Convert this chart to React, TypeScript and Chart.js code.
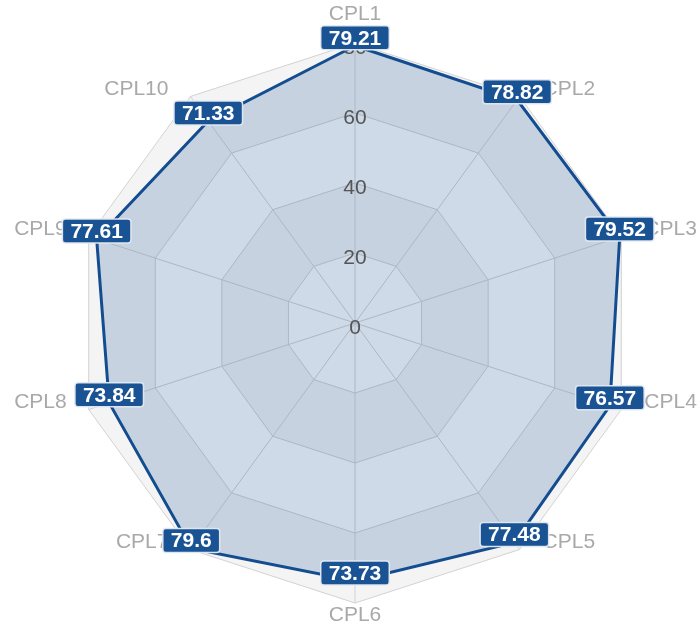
import React, { useEffect, useRef } from "react";
import { Chart, registerables } from "chart.js";

Chart.register(...registerables);

const CATEGORIES = ["CPL1", "CPL2", "CPL3", "CPL4", "CPL5", "CPL6", "CPL7", "CPL8", "CPL9", "CPL10"];
const VALUES = [79.21, 78.82, 79.52, 76.57, 77.48, 73.73, 79.6, 73.84, 77.61, 71.33];
const SCALE_MIN = 0;
const SCALE_MAX = 80;
const TICK_STEP = 20;

const FONT = '"Liberation Sans", Arial, Helvetica, sans-serif';
const LINE_COLOR = "#134d90";
const FILL_COLOR = "rgba(30, 85, 150, 0.21)";
const BOX_COLOR = "#1a5394";
const BAND_LIGHT = "#fefefe";
const BAND_DARK = "#f4f4f4";
const GRID_COLOR = "#d2d2d2";
const TICK_COLOR = "#555555";
const POINT_LABEL_COLOR = "#a9a9a9";

const zebraPlugin = {
  id: "zebra",
  beforeDraw(chart: any) {
    const s = chart.scales.r;
    if (!s) return;
    const ctx = chart.ctx;
    const n = chart.data.labels.length;
    const ticks = s.ticks;
    ctx.save();
    for (let k = ticks.length - 1; k >= 1; k--) {
      const d = s.getDistanceFromCenterForValue(ticks[k].value);
      ctx.beginPath();
      for (let i = 0; i < n; i++) {
        const p = s.getPointPosition(i, d);
        if (i === 0) ctx.moveTo(p.x, p.y);
        else ctx.lineTo(p.x, p.y);
      }
      ctx.closePath();
      ctx.fillStyle = k % 2 === 0 ? BAND_DARK : BAND_LIGHT;
      ctx.fill();
    }
    ctx.restore();
  },
};

const labelsPlugin = {
  id: "labelsOverlay",
  afterDatasetsDraw(chart: any) {
    const s = chart.scales.r;
    if (!s) return;
    const ctx = chart.ctx;
    const n = chart.data.labels.length;
    ctx.save();

    // radial tick labels
    ctx.font = `21px ${FONT}`;
    ctx.fillStyle = TICK_COLOR;
    ctx.textAlign = "center";
    ctx.textBaseline = "middle";
    s.ticks.forEach((t: any) => {
      const d = s.getDistanceFromCenterForValue(t.value);
      ctx.fillText(String(t.value), s.xCenter, s.yCenter - d + 5);
    });

    // point (category) labels
    ctx.font = `21px ${FONT}`;
    ctx.fillStyle = POINT_LABEL_COLOR;
    for (let i = 0; i < n; i++) {
      const p = s.getPointPosition(i, s.drawingArea);
      const dx = p.x - s.xCenter;
      const label = chart.data.labels[i];
      if (Math.abs(dx) < 1) {
        ctx.textAlign = "center";
        const y = p.y < s.yCenter ? p.y - 29 : p.y + 12.5;
        ctx.fillText(label, p.x, y);
      } else if (dx > 0) {
        ctx.textAlign = "left";
        ctx.fillText(label, p.x + 23, p.y - 7);
      } else {
        ctx.textAlign = "right";
        ctx.fillText(label, p.x - 22, p.y - 7);
      }
    }

    // value boxes
    const meta = chart.getDatasetMeta(0);
    const data = chart.data.datasets[0].data;
    ctx.font = `bold 21px ${FONT}`;
    ctx.textAlign = "center";
    ctx.textBaseline = "middle";
    meta.data.forEach((el: any, i: number) => {
      const txt = String(data[i]);
      const w = ctx.measureText(txt).width + 16;
      const h = 24;
      const cx = el.x;
      const cy = el.y - 8;
      ctx.beginPath();
      ctx.roundRect(cx - w / 2, cy - h / 2, w, h, 3);
      ctx.fillStyle = BOX_COLOR;
      ctx.fill();
      ctx.lineWidth = 1.5;
      ctx.strokeStyle = "rgba(228, 234, 242, 0.95)";
      ctx.stroke();
      ctx.fillStyle = "#ffffff";
      ctx.fillText(txt, cx, cy + 1);
    });

    ctx.restore();
  },
};

export default function App() {
  const ref = useRef<HTMLCanvasElement | null>(null);

  useEffect(() => {
    if (!ref.current) return;
    const chart = new Chart(ref.current, {
      type: "radar",
      data: {
        labels: CATEGORIES,
        datasets: [
          {
            data: VALUES,
            borderColor: LINE_COLOR,
            backgroundColor: FILL_COLOR,
            borderWidth: 3,
            pointRadius: 0,
            pointHoverRadius: 0,
            fill: true,
            tension: 0,
          },
        ],
      },
      options: {
        animation: false,
        responsive: true,
        maintainAspectRatio: false,
        layout: { padding: { left: 75, right: 65, top: 43, bottom: 26 } },
        plugins: {
          legend: { display: false },
          tooltip: { enabled: false },
        },
        scales: {
          r: {
            min: SCALE_MIN,
            max: SCALE_MAX,
            ticks: { display: false, stepSize: TICK_STEP },
            pointLabels: { display: false },
            grid: { color: GRID_COLOR, lineWidth: 1 },
            angleLines: { color: GRID_COLOR, lineWidth: 1 },
          },
        },
      },
      plugins: [zebraPlugin, labelsPlugin],
    });
    return () => chart.destroy();
  }, []);

  return (
    <div style={{ position: "fixed", left: 0, top: 0, width: 700, height: 629, background: "#fff" }}>
      <canvas ref={ref} />
    </div>
  );
}
